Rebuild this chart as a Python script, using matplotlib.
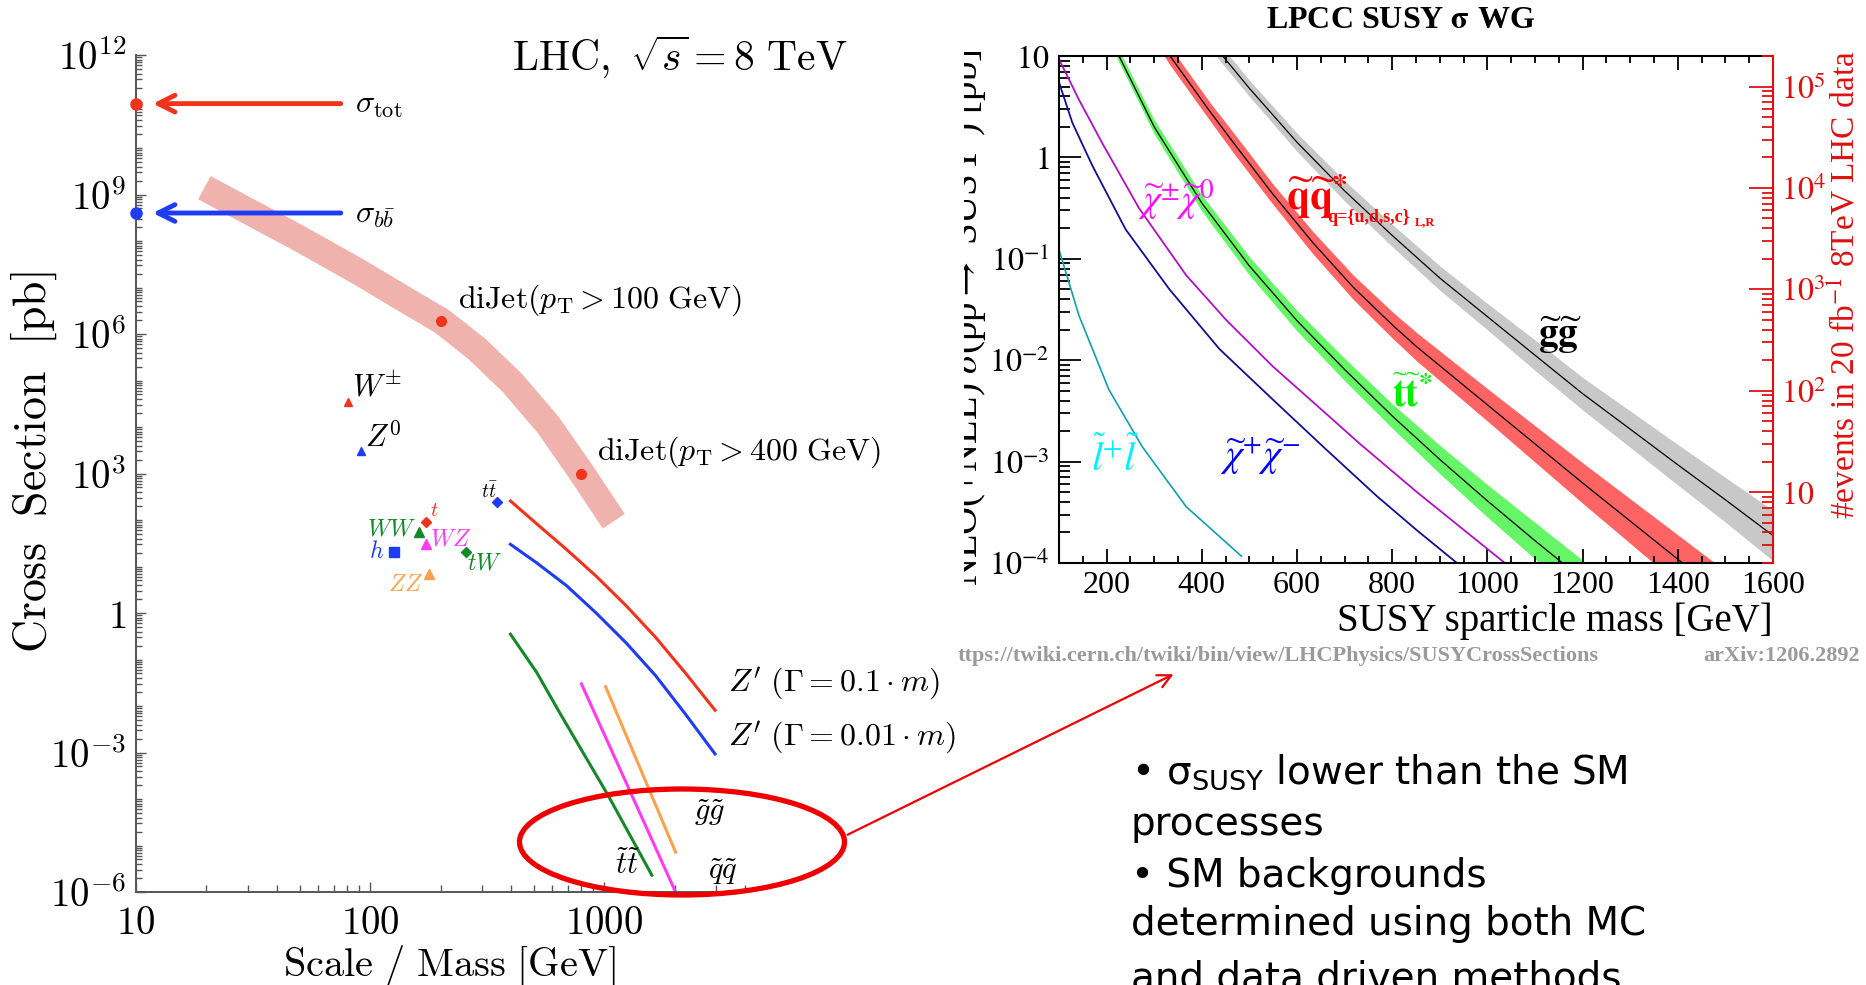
import numpy as np
import matplotlib
matplotlib.use("Agg")
import matplotlib.pyplot as plt
from matplotlib.patches import Ellipse, FancyArrowPatch
from matplotlib.ticker import LogLocator, NullFormatter, MultipleLocator
from matplotlib.transforms import Bbox

W, H = 1866, 985

### left panel: SM cross sections vs scale (LHC 8 TeV)
sigma_tot = 9e10
sigma_bb = 4e8
dijet_mass = [19.6, 49.4, 89, 142, 202, 286, 407, 578, 800, 1100]
dijet_xsec = [1.4e9, 1.16e8, 2.2e7, 5.4e6, 1.9e6, 4.8e5, 8.7e4, 1.1e4, 1.05e3, 94]
dijet_pt_mass = [200, 800]
dijet_pt_xsec = [1.9e6, 1.0e3]

w_mass, w_xsec = 80.4, 3.5e4
z_mass, z_xsec = 91.2, 3.0e3
tt_mass, tt_xsec = 350, 240
t_mass, t_xsec = 173, 90
ww_mass, ww_xsec = 162, 55
wz_mass, wz_xsec = 173, 30
h_mass, h_xsec = 126, 21
tw_mass, tw_xsec = 258, 21
zz_mass, zz_xsec = 178, 7

zp_mass = [398, 515, 690, 925, 1240, 1660, 2220, 2980]
zp01_xsec = [257, 83, 23.4, 6.2, 1.45, 0.30, 0.052, 0.0081]
zp001_xsec = [30, 12, 3.9, 1.0, 0.23, 0.045, 0.0068, 9.3e-4]

stop_l_mass = [398, 515, 650, 1040, 1600]
stop_l_xsec = [0.35, 0.053, 6.8e-3, 1.2e-4, 2.3e-6]
sq_l_mass = [800, 1270, 2020]
sq_l_xsec = [0.03, 1.76e-4, 1e-6]
gl_l_mass = [1015, 1420, 2020]
gl_l_xsec = [0.026, 4.8e-4, 7.2e-6]

### right panel: SUSY NLO+NLL cross sections
gluino_mass = [400, 444, 500, 600, 700, 800, 900, 1000, 1100, 1200, 1300, 1400, 1500, 1603]
gluino_xsec = [18, 10, 4.8, 1.41, 0.468, 0.17, 0.0646, 0.0269, 0.0112, 0.00468, 0.00209, 9.3e-4,
               4.2e-4, 1.82e-4]
gluino_err = [0.08, 0.08, 0.08, 0.09, 0.1, 0.11, 0.12, 0.13, 0.15, 0.16, 0.18, 0.2, 0.22, 0.25]

squark_mass = [300, 332, 416, 472, 549, 633, 718, 802, 852, 1000, 1203, 1399, 1500]
squark_xsec = [17.8, 10.2, 2.88, 1.29, 0.436, 0.145, 0.0525, 0.0219, 0.0135, 0.00363, 6.0e-4, 1.1e-4, 4.7e-5]
squark_err = [0.09, 0.09, 0.09, 0.1, 0.1, 0.11, 0.12, 0.13, 0.14, 0.16, 0.2, 0.24, 0.25]

stop_mass = [200, 226, 300, 400, 500, 600, 700, 800, 900, 1000, 1100, 1200]
stop_xsec = [18.6, 10, 2.0, 0.355, 0.085, 0.0245, 0.0081, 0.00282, 0.00105, 4.1e-4, 1.66e-4, 6.9e-5]
stop_err = [0.06, 0.06, 0.07, 0.08, 0.09, 0.1, 0.11, 0.12, 0.14, 0.16, 0.18, 0.19]

c1n2_mass = [100, 142, 191, 268, 367, 451, 549, 647, 732, 852, 1050]
c1n2_xsec = [9.3, 3.7, 1.38, 0.316, 0.069, 0.025, 0.0087, 0.0034, 0.0015, 5.0e-4, 8.9e-5]

c1c1_mass = [100, 128, 170, 240, 332, 437, 549, 661, 767, 852, 936, 960]
c1c1_xsec = [5.5, 2.2, 0.83, 0.195, 0.05, 0.0129, 0.0041, 0.00132, 4.6e-4, 2.1e-4, 1.0e-4, 7.9e-5]

slep_mass = [100, 142, 205, 275, 367, 483]
slep_xsec = [0.123, 0.0275, 0.0051, 0.0014, 3.6e-4, 1.17e-4]

left_yticks = [1e-6, 1e-3, 1, 1e3, 1e6, 1e9, 1e12]
left_ylabels = [r"$10^{-6}$", r"$10^{-3}$", r"$1$", r"$10^{3}$", r"$10^{6}$", r"$10^{9}$", r"$10^{12}$"]
right_yticks = [1e-4, 1e-3, 1e-2, 1e-1, 1, 10]
right_ylabels = [r"$10^{-4}$", r"$10^{-3}$", r"$10^{-2}$", r"$10^{-1}$", r"$1$", r"$10$"]
event_ticks = [10, 1e2, 1e3, 1e4, 1e5]
event_labels = [r"$10$", r"$10^{2}$", r"$10^{3}$", r"$10^{4}$", r"$10^{5}$"]
lumi = 2e4  # 20 fb^-1 in pb^-1

bullets = [r"• σ$_\mathregular{SUSY}$ lower than the SM", "processes", "• SM backgrounds",
           "determined using both MC", "and data driven methods"]


def fpos(x, y):
    return x / W, 1 - y / H


def main():
    plt.rcParams["mathtext.fontset"] = "cm"
    fig = plt.figure(figsize=(W / 100, H / 100), dpi=100)
    fig.patch.set_facecolor("white")

    red = "#f2331c"
    blue = "#1f3cf5"
    green = "#17882a"
    magenta = "#ff3cf0"
    orange = "#ffa04a"
    grey = "#555555"

    ### left axes
    axL = fig.add_axes([136 / W, 93 / H, 609 / W, 837 / H])
    axL.set_xscale("log")
    axL.set_yscale("log")
    axL.set_xlim(10, 4000)
    axL.set_ylim(1e-6, 1e12)
    for s in ["top", "right"]:
        axL.spines[s].set_visible(False)
    for s in ["left", "bottom"]:
        axL.spines[s].set_color(grey)
        axL.spines[s].set_linewidth(1.4)
    axL.set_yticks(left_yticks, left_ylabels, fontsize=28, math_fontfamily="cm")
    axL.set_xticks([10, 100, 1000], [r"$10$", r"$100$", r"$1000$"], fontsize=28, math_fontfamily="cm")
    axL.yaxis.set_minor_locator(LogLocator(base=10, subs=np.arange(1, 10), numticks=300))
    axL.xaxis.set_minor_locator(LogLocator(base=10, subs=np.arange(2, 10), numticks=50))
    axL.yaxis.set_minor_formatter(NullFormatter())
    axL.xaxis.set_minor_formatter(NullFormatter())
    axL.tick_params(which="both", direction="in", color=grey, width=1.0)
    axL.tick_params(axis="y", which="major", length=7, pad=7)
    axL.tick_params(axis="y", which="minor", length=4)
    axL.tick_params(axis="x", which="major", length=7, pad=9)
    axL.tick_params(axis="x", which="minor", length=5)

    axL.plot(dijet_mass, dijet_xsec, color="#f0b2ad", lw=19, solid_capstyle="butt",
             solid_joinstyle="round", zorder=1)
    axL.plot(dijet_pt_mass, dijet_pt_xsec, "o", color=red, ms=7, zorder=3)

    axL.plot([10], [sigma_tot], "o", color=red, ms=8, clip_on=False, zorder=4)
    axL.plot([10], [sigma_bb], "o", color=blue, ms=8, clip_on=False, zorder=4)
    axL.annotate("", xy=(11.8, sigma_tot), xytext=(75, sigma_tot),
                 arrowprops=dict(arrowstyle="->", color=red, lw=3.5, mutation_scale=30, shrinkA=0, shrinkB=0))
    axL.annotate("", xy=(11.8, sigma_bb), xytext=(75, sigma_bb),
                 arrowprops=dict(arrowstyle="->", color=blue, lw=3.5, mutation_scale=30, shrinkA=0, shrinkB=0))

    axL.plot([w_mass], [w_xsec], "^", color=red, ms=6)
    axL.plot([z_mass], [z_xsec], "^", color=blue, ms=6)
    axL.plot([tt_mass], [tt_xsec], "D", color=blue, ms=5)
    axL.plot([t_mass], [t_xsec], "D", color=red, ms=5)
    axL.plot([ww_mass], [ww_xsec], "^", color=green, ms=7)
    axL.plot([wz_mass], [wz_xsec], "^", color=magenta, ms=7)
    axL.plot([h_mass], [h_xsec], "s", color=blue, ms=7)
    axL.plot([tw_mass], [tw_xsec], "D", color=green, ms=5)
    axL.plot([zz_mass], [zz_xsec], "^", color=orange, ms=7)

    axL.plot(zp_mass, zp01_xsec, color=red, lw=2.2)
    axL.plot(zp_mass, zp001_xsec, color=blue, lw=2.2)
    axL.plot(stop_l_mass, stop_l_xsec, color=green, lw=2.2)
    axL.plot(sq_l_mass, sq_l_xsec, color=magenta, lw=2.2)
    axL.plot(gl_l_mass, gl_l_xsec, color=orange, lw=2.2)

    cm = dict(math_fontfamily="cm", va="center")
    fig.text(*fpos(680, 57), r"$\mathrm{LHC,}\ \sqrt{s} = 8\ \mathrm{TeV}$", fontsize=30, ha="center", **cm)
    fig.text(*fpos(34, 462), r"$\mathrm{Cross\ \ Section\ \ [pb]}$", fontsize=33, ha="center", rotation=90, **cm)
    fig.text(*fpos(449, 966), r"$\mathrm{Scale\ /\ Mass\ [GeV]}$", fontsize=29, ha="center", **cm)
    fig.text(*fpos(355, 105), r"$\sigma_{\mathrm{tot}}$", fontsize=23, **cm)
    fig.text(*fpos(355, 215), r"$\sigma_{b\bar{b}}$", fontsize=23, **cm)
    fig.text(*fpos(458, 300), r"$\mathrm{diJet}(p_{\mathrm{T}} > 100\ \mathrm{GeV})$", fontsize=23, **cm)
    fig.text(*fpos(597, 452), r"$\mathrm{diJet}(p_{\mathrm{T}} > 400\ \mathrm{GeV})$", fontsize=23, **cm)
    fig.text(*fpos(352, 387), r"$W^{\pm}$", fontsize=22, **cm)
    fig.text(*fpos(365, 437), r"$Z^{0}$", fontsize=22, **cm)
    fig.text(*fpos(489, 492), r"$t\bar{t}$", fontsize=14, ha="center", **cm)
    fig.text(*fpos(434, 510), r"$t$", fontsize=15, color=red, ha="center", **cm)
    fig.text(*fpos(416, 528), r"$WW$", fontsize=17, color=green, ha="right", **cm)
    fig.text(*fpos(430, 539), r"$WZ$", fontsize=17, color=magenta, **cm)
    fig.text(*fpos(384, 551), r"$h$", fontsize=17, color=blue, ha="right", **cm)
    fig.text(*fpos(467, 563), r"$tW$", fontsize=17, color=green, **cm)
    fig.text(*fpos(423, 584), r"$ZZ$", fontsize=17, color=orange, ha="right", **cm)
    fig.text(*fpos(728, 684), r"$Z'\ (\Gamma = 0.1\cdot m)$", fontsize=23, **cm)
    fig.text(*fpos(728, 738), r"$Z'\ (\Gamma = 0.01\cdot m)$", fontsize=23, **cm)
    fig.text(*fpos(694, 813), r"$\tilde{g}\tilde{g}$", fontsize=22, **cm)
    fig.text(*fpos(627, 865), r"$\tilde{t}\tilde{t}$", fontsize=22, ha="center", **cm)
    fig.text(*fpos(708, 872), r"$\tilde{q}\tilde{q}$", fontsize=22, **cm)

    fig.add_artist(Ellipse(fpos(682, 842), 325 / W, 106 / H, transform=fig.transFigure,
                           fill=False, ec="#ee0000", lw=3.8))
    fig.add_artist(FancyArrowPatch(fpos(845, 836), fpos(1176, 673), transform=fig.transFigure,
                                   arrowstyle="->", mutation_scale=24, lw=1.6, color="#ee0000"))

    ### right axes
    axR = fig.add_axes([1059 / W, 422 / H, 714 / W, 507 / H])
    axR.set_yscale("log")
    axR.set_xlim(100, 1600)
    axR.set_ylim(1e-4, 10)

    axR.fill_between(gluino_mass, np.array(gluino_xsec) * 10 ** -np.array(gluino_err),
                     np.array(gluino_xsec) * 10 ** np.array(gluino_err), color="#c8c8c8", lw=0)
    axR.plot(gluino_mass, gluino_xsec, color="black", lw=0.9)
    axR.fill_between(squark_mass, np.array(squark_xsec) * 10 ** -np.array(squark_err),
                     np.array(squark_xsec) * 10 ** np.array(squark_err), color="#ff6464", lw=0)
    axR.plot(squark_mass, squark_xsec, color="black", lw=0.9)
    axR.fill_between(stop_mass, np.array(stop_xsec) * 10 ** -np.array(stop_err),
                     np.array(stop_xsec) * 10 ** np.array(stop_err), color="#66f566", lw=0)
    axR.plot(stop_mass, stop_xsec, color="black", lw=0.9)
    axR.plot(c1n2_mass, c1n2_xsec, color="#b010c0", lw=1.3)
    axR.plot(c1c1_mass, c1c1_xsec, color="#101090", lw=1.3)
    axR.plot(slep_mass, slep_xsec, color="#10a0a8", lw=1.2)

    axR.set_yticks(right_yticks, right_ylabels, fontsize=23, math_fontfamily="stix")
    axR.set_xticks([200, 400, 600, 800, 1000, 1200, 1400, 1600])
    axR.set_xticklabels(["200", "400", "600", "800", "1000", "1200", "1400", "1600"],
                        fontsize=23, family="Liberation Serif")
    axR.xaxis.set_minor_locator(MultipleLocator(50))
    axR.yaxis.set_minor_locator(LogLocator(base=10, subs=np.arange(2, 10), numticks=50))
    axR.yaxis.set_minor_formatter(NullFormatter())
    axR.tick_params(which="both", direction="in", top=True, right=False, width=1.3)
    axR.tick_params(axis="y", which="major", length=16, pad=7)
    axR.tick_params(axis="y", which="minor", length=8)
    axR.tick_params(axis="x", which="major", length=10, pad=6)
    axR.tick_params(axis="x", which="minor", length=5)
    for s in ["left", "bottom", "top"]:
        axR.spines[s].set_linewidth(1.5)
    axR.spines["right"].set_color("#dd1111")
    axR.spines["right"].set_linewidth(1.5)

    axE = axR.twinx()
    axE.set_yscale("log")
    axE.set_ylim(1e-4 * lumi, 10 * lumi)
    axE.set_yticks(event_ticks, event_labels, fontsize=23, color="#dd1111", math_fontfamily="stix")
    axE.yaxis.set_minor_locator(LogLocator(base=10, subs=np.arange(2, 10), numticks=50))
    axE.yaxis.set_minor_formatter(NullFormatter())
    axE.tick_params(which="both", direction="in", color="#dd1111", width=1.3)
    axE.tick_params(which="major", length=17, pad=6)
    axE.tick_params(which="minor", length=8)
    for s in ["left", "bottom", "top"]:
        axE.spines[s].set_visible(False)
    axE.spines["right"].set_color("#dd1111")
    axE.spines["right"].set_linewidth(1.5)

    st = dict(math_fontfamily="stix", va="center")
    fig.text(*fpos(1401, 21), r"LPCC SUSY $\mathbf{\sigma}$ WG", fontsize=23, ha="center",
             family="Liberation Serif", weight="bold", **st)
    fig.text(*fpos(1773, 621), "SUSY sparticle mass [GeV]", fontsize=28, ha="right",
             family="Liberation Serif", va="center")
    fig.text(*fpos(1845, 285), r"#events in 20 fb$^{-1}$ 8TeV LHC data", fontsize=24, ha="center",
             rotation=90, color="#dd1111", family="Liberation Serif", **st)
    ylab = fig.text(*fpos(988, 318), r"NLO(+NLL) $\sigma$(pp$\rightarrow$ SUSY ) [pb]", fontsize=28,
                    ha="right", rotation=90, family="Liberation Serif", **st)
    ylab.set_clip_box(Bbox.from_extents(964, 0, 1055, H))
    ylab.set_clip_on(True)

    fig.text(*fpos(1176, 200), r"$\widetilde{\chi}^{\pm}\widetilde{\chi}^{0}$", fontsize=28,
             ha="center", color="#ff10ff", **st)
    fig.text(*fpos(1286, 196), r"$\mathbf{\widetilde{q}\widetilde{q}}^{\mathbf{*}}$",
             fontsize=30, color="#ff0000", **st)
    fig.text(*fpos(1327, 217), "q={u,d,s,c}", fontsize=13, color="#ff0000", weight="bold",
             family="Liberation Serif", va="center")
    fig.text(*fpos(1415, 222), "L,R", fontsize=9, color="#ff0000", weight="bold",
             family="Liberation Serif", va="center")
    fig.text(*fpos(1560, 335), r"$\mathbf{\widetilde{g}\widetilde{g}}$", fontsize=28, ha="center",
             color="black", **st)
    fig.text(*fpos(1412, 395), r"$\mathbf{\widetilde{t}\widetilde{t}}^{\mathbf{*}}$", fontsize=28,
             ha="center", color="#00ee00", **st)
    fig.text(*fpos(1115, 459), r"$\widetilde{l}^{+}\widetilde{l}$", fontsize=29, ha="center",
             color="#00f0ff", **st)
    fig.text(*fpos(1260, 456), r"$\widetilde{\chi}^{+}\widetilde{\chi}^{-}$", fontsize=28,
             ha="center", color="#0000ff", **st)

    fig.text(*fpos(958, 656), "ttps://twiki.cern.ch/twiki/bin/view/LHCPhysics/SUSYCrossSections",
             fontsize=16, family="Liberation Serif", weight="bold", color="#9a9a9a", va="center")
    fig.text(*fpos(1860, 656), "arXiv:1206.2892", fontsize=16, family="Liberation Serif",
             weight="bold", color="#9a9a9a", va="center", ha="right")

    ### bullet text
    for line, y in zip(bullets, [772, 824, 876, 924, 978]):
        fig.text(*fpos(1131, y), line, fontsize=28, family="DejaVu Sans", va="center",
                 math_fontfamily="dejavusans")

    fig.savefig("out.png", dpi=100, facecolor="white")


if __name__ == "__main__":
    main()
